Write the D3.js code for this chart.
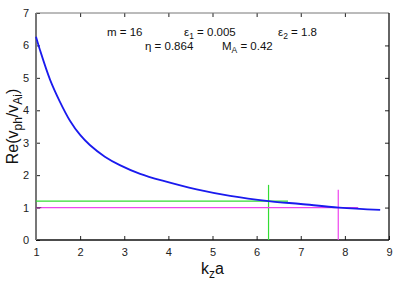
<!DOCTYPE html>
<html>
<head>
<meta charset="utf-8">
<script src="https://cdn.jsdelivr.net/npm/d3@7"></script>
<style>
  body { margin: 0; background: #fff; }
  text { font-family: "Liberation Sans", Arial, sans-serif; }
</style>
</head>
<body>
<div id="chart"></div>
<script>
// values
const kzA = [1, 1.09, 1.32, 1.54, 1.77, 2.0, 2.22, 2.56, 2.9, 3.36, 3.89, 4.64, 5.4, 6.27, 7, 7.87, 8.8];
const vph = [6.27, 5.86, 4.94, 4.27, 3.68, 3.24, 2.93, 2.57, 2.31, 2.04, 1.82, 1.56, 1.36, 1.2, 1.11, 1.0, 0.93];
const greenLevel = 1.2, greenEnd = 6.71, greenX = 6.27, greenTop = 1.7;
const pinkLevel = 1.0, pinkEnd = 8.3, pinkX = 7.85, pinkTop = 1.55;
const xTicks = [1, 2, 3, 4, 5, 6, 7, 8, 9];
const yTicks = [0, 1, 2, 3, 4, 5, 6, 7];

const width = 409, height = 286;
const margin = {top: 13, right: 20, bottom: 46, left: 36};

const svg = d3.select("#chart").append("svg")
  .attr("width", width)
  .attr("height", height);

const x = d3.scaleLinear().domain([1, 9]).range([margin.left, width - margin.right]);
const y = d3.scaleLinear().domain([0, 7]).range([height - margin.bottom, margin.top]);

const tickLen = 4;
const fmt = d3.format("d");

// ticks on all four sides, pointing inwards
svg.append("g")
  .attr("transform", `translate(0,${y(0)})`)
  .call(d3.axisBottom(x).tickValues(xTicks).tickFormat(fmt).tickSizeInner(-tickLen).tickSizeOuter(0).tickPadding(8))
  .call(g => g.select(".domain").remove());

svg.append("g")
  .attr("transform", `translate(0,${y(7)})`)
  .call(d3.axisTop(x).tickValues(xTicks.slice(1, -1)).tickSizeInner(-tickLen).tickSizeOuter(0).tickFormat(""))
  .call(g => g.select(".domain").remove());

svg.append("g")
  .attr("transform", `translate(${x(1)},0)`)
  .call(d3.axisLeft(y).tickValues(yTicks).tickFormat(fmt).tickSizeInner(-tickLen).tickSizeOuter(0).tickPadding(7))
  .call(g => g.select(".domain").remove());

svg.append("g")
  .attr("transform", `translate(${x(9)},0)`)
  .call(d3.axisRight(y).tickValues(yTicks.slice(1, -1)).tickSizeInner(-tickLen).tickSizeOuter(0).tickFormat(""))
  .call(g => g.select(".domain").remove());

svg.selectAll(".tick line").attr("stroke", "#222");
svg.selectAll(".tick text")
  .attr("fill", "#222")
  .style("font-size", "11px");

// border
svg.append("line").attr("x1", x(1)).attr("x2", x(9)).attr("y1", y(7)).attr("y2", y(7))
  .attr("stroke", "#777").attr("stroke-width", 1);
svg.append("line").attr("x1", x(9)).attr("x2", x(9)).attr("y1", y(7)).attr("y2", y(0))
  .attr("stroke", "#111").attr("stroke-width", 1.3);
svg.append("line").attr("x1", x(1)).attr("x2", x(9)).attr("y1", y(0)).attr("y2", y(0))
  .attr("stroke", "#111").attr("stroke-width", 1.5);
svg.append("line").attr("x1", x(1)).attr("x2", x(1)).attr("y1", y(7)).attr("y2", y(0))
  .attr("stroke", "#777").attr("stroke-width", 2);

// reference lines
const hv = (x1, y1, x2, y2, color) => svg.append("line")
  .attr("x1", x(x1)).attr("y1", y(y1)).attr("x2", x(x2)).attr("y2", y(y2))
  .attr("stroke", color).attr("stroke-width", 1.2);

hv(1, greenLevel, greenEnd, greenLevel, "#33dd33");
hv(greenX, 0, greenX, greenTop, "#33dd33");
hv(1, pinkLevel, pinkEnd, pinkLevel, "#ee44ee");
hv(pinkX, 0, pinkX, pinkTop, "#ee44ee");
hv(1, pinkLevel, 1.12, pinkLevel, "#883388");

// dispersion curve
const line = d3.line()
  .x((d, i) => x(kzA[i]))
  .y(d => y(d))
  .curve(d3.curveCatmullRom);

svg.append("path")
  .datum(vph)
  .attr("fill", "none")
  .attr("stroke", "#1a1aee")
  .attr("stroke-width", 1.8)
  .attr("d", line);

// text with subscripts, shifted with dy so the baseline comes back afterwards
const richText = (sel, parts, subSize, shift) => {
  let down = false;
  parts.forEach(p => {
    const s = sel.append("tspan").text(p[0]);
    const isSub = p[1] === "sub";
    if (isSub && !down) { s.attr("dy", shift); down = true; }
    else if (!isSub && down) { s.attr("dy", -shift); down = false; }
    if (isSub) s.style("font-size", subSize);
  });
};

const note = (px, py, parts) => {
  const t = svg.append("text").attr("x", px).attr("y", py)
    .style("font-size", "11.5px").attr("fill", "#111");
  richText(t, parts, "8.5px", 3);
};
note(107, 36, [["m = 16"]]);
note(184, 36, [["ε"], ["1", "sub"], [" = 0.005"]]);
note(278, 36, [["ε"], ["2", "sub"], [" = 1.8"]]);
note(145, 50, [["η = 0.864"]]);
note(222, 50, [["M"], ["A", "sub"], [" = 0.42"]]);

// axis labels
const xl = svg.append("text")
  .attr("x", x(5)).attr("y", 274)
  .attr("text-anchor", "middle")
  .style("font-size", "16px").attr("fill", "#111");
richText(xl, [["k"], ["z", "sub"], ["a"]], "12px", 4);

const yl = svg.append("text")
  .attr("transform", `translate(18,${y(3.5)}) rotate(-90)`)
  .attr("text-anchor", "middle")
  .style("font-size", "16px").attr("fill", "#111");
richText(yl, [["Re(v"], ["ph", "sub"], ["/v"], ["Ai", "sub"], [")"]], "12px", 4);
</script>
</body>
</html>
